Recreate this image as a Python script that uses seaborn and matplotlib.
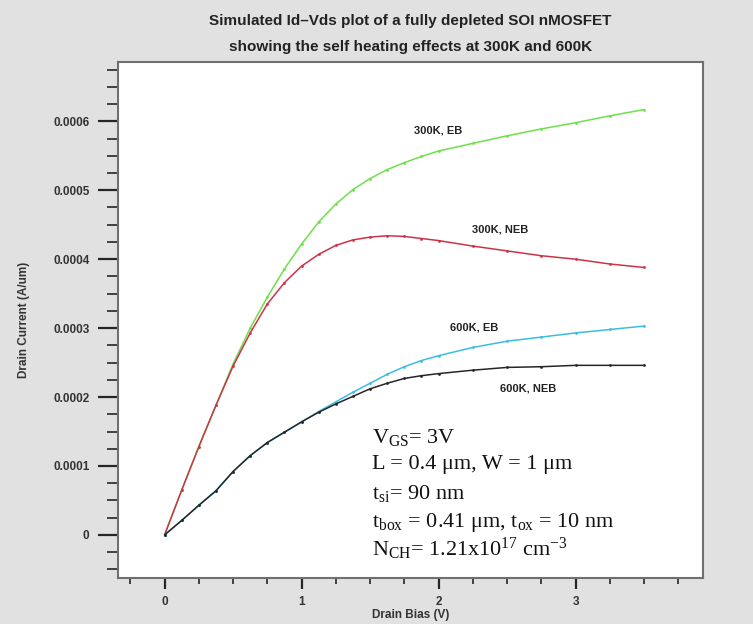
import numpy as np
import pandas as pd
import matplotlib
matplotlib.use("Agg")
import matplotlib.pyplot as plt
from matplotlib.ticker import MultipleLocator, FuncFormatter
import seaborn as sns

# ---- data (Drain current in units of 1e-4 A/um) ----
vds = [0, 0.125, 0.25, 0.375, 0.5, 0.625, 0.75, 0.875, 1.0, 1.125, 1.25, 1.375, 1.5,
       1.625, 1.75, 1.875, 2.0, 2.25, 2.5, 2.75, 3.0, 3.25, 3.5]
id_300K_EB = [0, 0.65, 1.28, 1.88, 2.48, 3.00, 3.45, 3.86, 4.22, 4.54, 4.80, 5.01, 5.17,
              5.30, 5.40, 5.49, 5.57, 5.68, 5.79, 5.89, 5.98, 6.08, 6.17]
id_300K_NEB = [0, 0.65, 1.28, 1.88, 2.45, 2.93, 3.35, 3.66, 3.90, 4.07, 4.20, 4.28, 4.32,
               4.34, 4.33, 4.30, 4.27, 4.19, 4.12, 4.05, 4.00, 3.93, 3.88]
id_600K_EB = [0, 0.21, 0.43, 0.64, 0.92, 1.15, 1.34, 1.49, 1.64, 1.79, 1.93, 2.07, 2.20,
              2.33, 2.44, 2.53, 2.60, 2.72, 2.81, 2.87, 2.93, 2.98, 3.03]
id_600K_NEB = [0, 0.21, 0.43, 0.64, 0.92, 1.15, 1.34, 1.49, 1.64, 1.78, 1.90, 2.01, 2.12,
               2.20, 2.27, 2.31, 2.34, 2.39, 2.43, 2.44, 2.46, 2.46, 2.46]
series_names = ["300K, EB", "300K, NEB", "600K, EB", "600K, NEB"]
series_colors = ["#6ee04a", "#cc3347", "#3cbde0", "#262626"]

# label positions (data coords)
label_x = [2.0, 2.45, 2.26, 2.65]
label_y = [5.87e-4, 4.43e-4, 3.01e-4, 2.12e-4]

title_lines = ["Simulated Id\u2013Vds plot of a fully depleted SOI nMOSFET",
               "showing the self heating effects at 300K and 600K"]

rows = []
for name, vals in zip(series_names, [id_300K_EB, id_300K_NEB, id_600K_EB, id_600K_NEB]):
    for v, i in zip(vds, vals):
        rows.append({"Vds": v, "Id": i * 1e-4, "series": name})
df = pd.DataFrame(rows)

sns.set_style("white")
plt.rcParams["font.family"] = ["Liberation Sans", "DejaVu Sans"]
plt.rcParams["mathtext.fontset"] = "custom"
plt.rcParams["mathtext.rm"] = "Liberation Serif"
plt.rcParams["mathtext.it"] = "Liberation Serif:italic"

fig = plt.figure(figsize=(7.53, 6.24), dpi=100, facecolor="#e1e1e1")
ax = fig.add_axes([0.1567, 0.0737, 0.9336 - 0.1567, 0.9006 - 0.0737])
ax.set_facecolor("white")

sns.lineplot(data=df, x="Vds", y="Id", hue="series", hue_order=series_names,
             palette=dict(zip(series_names, series_colors)), marker="o",
             markersize=2.0, markeredgewidth=0, linewidth=1.1, ax=ax, legend=False)

ax.set_xlim(-0.34, 3.93)
ax.set_ylim(-0.0000625, 0.000686)

ax.xaxis.set_major_locator(MultipleLocator(1))
ax.xaxis.set_minor_locator(MultipleLocator(0.25))
ax.yaxis.set_major_locator(MultipleLocator(0.0001))
ax.yaxis.set_minor_locator(MultipleLocator(0.000025))
ax.yaxis.set_major_formatter(FuncFormatter(lambda v, p: "0" if abs(v) < 1e-12 else f"{v:.4f}"))
ax.xaxis.set_major_formatter(FuncFormatter(lambda v, p: f"{v:g}"))

ax.tick_params(axis="y", which="major", direction="out", length=14.5, width=1.6, pad=6,
               labelsize=8.5, left=True)
ax.tick_params(axis="y", which="minor", direction="out", length=8, width=1.2, left=True)
ax.tick_params(axis="x", which="major", direction="out", length=8, width=1.6, pad=5,
               labelsize=8.5, bottom=True)
ax.tick_params(axis="x", which="minor", direction="out", length=4.5, width=1.2, bottom=True)
for lab in ax.get_xticklabels() + ax.get_yticklabels():
    lab.set_fontweight("bold")
    lab.set_color("#333333")

for s in ax.spines.values():
    s.set_color("#707070")
    s.set_linewidth(1.5)

ax.set_xlabel("Drain Bias (V)", fontsize=8.5, fontweight="bold", color="#333333", labelpad=1)
ax.set_ylabel("Drain Current (A/um)", fontsize=8.5, fontweight="bold", color="#333333", labelpad=17)

for name, x, y in zip(series_names, label_x, label_y):
    ax.text(x, y, name, ha="center", va="center", fontsize=8, fontweight="bold",
            color="#222222")

fig.text(0.545, 0.967, title_lines[0], ha="center", va="center", fontsize=11,
         fontweight="bold", color="#222222")
fig.text(0.545, 0.925, title_lines[1], ha="center", va="center", fontsize=11,
         fontweight="bold", color="#222222")

info = [r"V$_{\mathrm{GS}}$= 3V",
        "L = 0.4 \u03bcm, W = 1 \u03bcm",
        r"t$_{\mathrm{si}}$= 90 nm",
        "t$_{\\mathrm{box}}$ = 0.41 \u03bcm, t$_{\\mathrm{ox}}$ = 10 nm",
        r"N$_{\mathrm{CH}}$= 1.21x10$^{\mathrm{17}}$ cm$^{\mathrm{-3}}$"]
info_y = [437, 465, 494, 522, 549]
for t, py in zip(info, info_y):
    fig.text(372 / 753, 1 - py / 624, t, ha="left", va="center", fontsize=16,
             family=["Liberation Serif", "DejaVu Serif"], color="#111111")

fig.savefig("out.png", dpi=100, facecolor=fig.get_facecolor())
